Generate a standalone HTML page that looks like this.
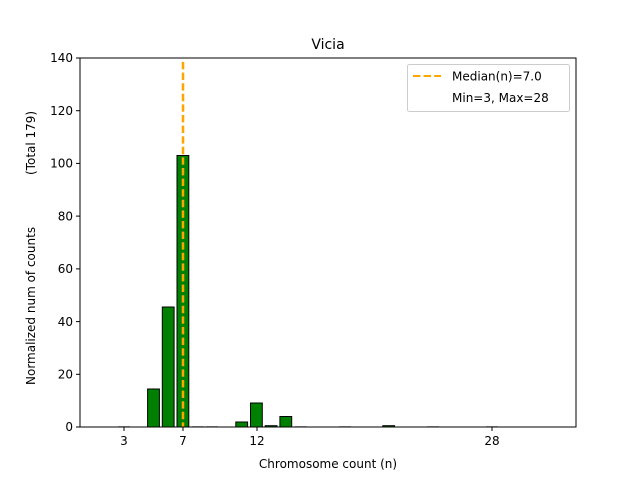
<!DOCTYPE html>
<html><head><style>body{margin:0;background:#fff}svg{display:block;font-family:"DejaVu Sans","Liberation Sans",sans-serif}</style></head>
<body>
<svg width="640" height="480" xmlns="http://www.w3.org/2000/svg">
<rect width="640" height="480" fill="#fff"/>
<g stroke="#000" stroke-width="1" fill="#008000">
<rect x="147.6" y="389" width="11.8" height="38"/>
<rect x="162.3" y="307" width="11.8" height="120"/>
<rect x="177.0" y="155.5" width="11.8" height="271.5"/>
<rect x="235.8" y="422" width="11.8" height="5"/>
<rect x="250.5" y="403" width="11.8" height="24"/>
<rect x="265.2" y="425.7" width="11.8" height="1.3"/>
<rect x="279.9" y="416.5" width="11.8" height="10.5"/>
<rect x="382.8" y="425.7" width="11.8" height="1.3"/>
</g>
<g stroke="#bbb" stroke-width="1">
<line x1="118" y1="426.5" x2="130" y2="426.5"/>
<line x1="192" y1="426.5" x2="204" y2="426.5"/>
<line x1="206" y1="426.5" x2="218" y2="426.5"/>
<line x1="295" y1="426.5" x2="307" y2="426.5"/>
<line x1="339" y1="426.5" x2="351" y2="426.5"/>
<line x1="427" y1="426.5" x2="439" y2="426.5"/>
<line x1="486" y1="426.5" x2="498" y2="426.5"/>
</g>
<line x1="183" y1="62" x2="183" y2="427" stroke="#FFA500" stroke-width="2.5" stroke-dasharray="7.4,3.2"/>
<rect x="80" y="58" width="496" height="369" fill="none" stroke="#000" stroke-width="1"/>
<g stroke="#000">
<line x1="80" y1="427" x2="76" y2="427"/><line x1="80" y1="374.3" x2="76" y2="374.3"/>
<line x1="80" y1="321.6" x2="76" y2="321.6"/><line x1="80" y1="268.9" x2="76" y2="268.9"/>
<line x1="80" y1="216.1" x2="76" y2="216.1"/><line x1="80" y1="163.4" x2="76" y2="163.4"/>
<line x1="80" y1="110.7" x2="76" y2="110.7"/><line x1="80" y1="58" x2="76" y2="58"/>
<line x1="124" y1="427" x2="124" y2="431"/><line x1="183" y1="427" x2="183" y2="431"/>
<line x1="257" y1="427" x2="257" y2="431"/><line x1="492" y1="427" x2="492" y2="431"/>
</g>
<g font-size="12" fill="#000" text-anchor="end">
<text x="73" y="431">0</text><text x="73" y="378.5">20</text><text x="73" y="325.8">40</text>
<text x="73" y="273.1">60</text><text x="73" y="220.3">80</text><text x="73" y="167.6">100</text>
<text x="73" y="114.9">120</text><text x="73" y="62.2">140</text>
</g>
<g font-size="12" fill="#000" text-anchor="middle">
<text x="124" y="445">3</text><text x="183" y="445">7</text><text x="257" y="445">12</text><text x="492" y="445">28</text>
<text x="328" y="468">Chromosome count (n)</text>
<text x="328" y="49" font-size="14">Vicia</text>
</g>
<g font-size="12" fill="#000">
<text transform="translate(35,385) rotate(-90)">Normalized num of counts</text>
<text transform="translate(35,175) rotate(-90)">(Total 179)</text>
</g>
<rect x="407.5" y="64.5" width="162" height="47" rx="2" fill="#fff" stroke="#ccc"/>
<line x1="413" y1="76" x2="441" y2="76" stroke="#FFA500" stroke-width="2" stroke-dasharray="7.4,3.2"/>
<text x="452" y="80.5" font-size="12">Median(n)=7.0</text>
<text x="452" y="102" font-size="12">Min=3, Max=28</text>
</svg>
</body></html>
